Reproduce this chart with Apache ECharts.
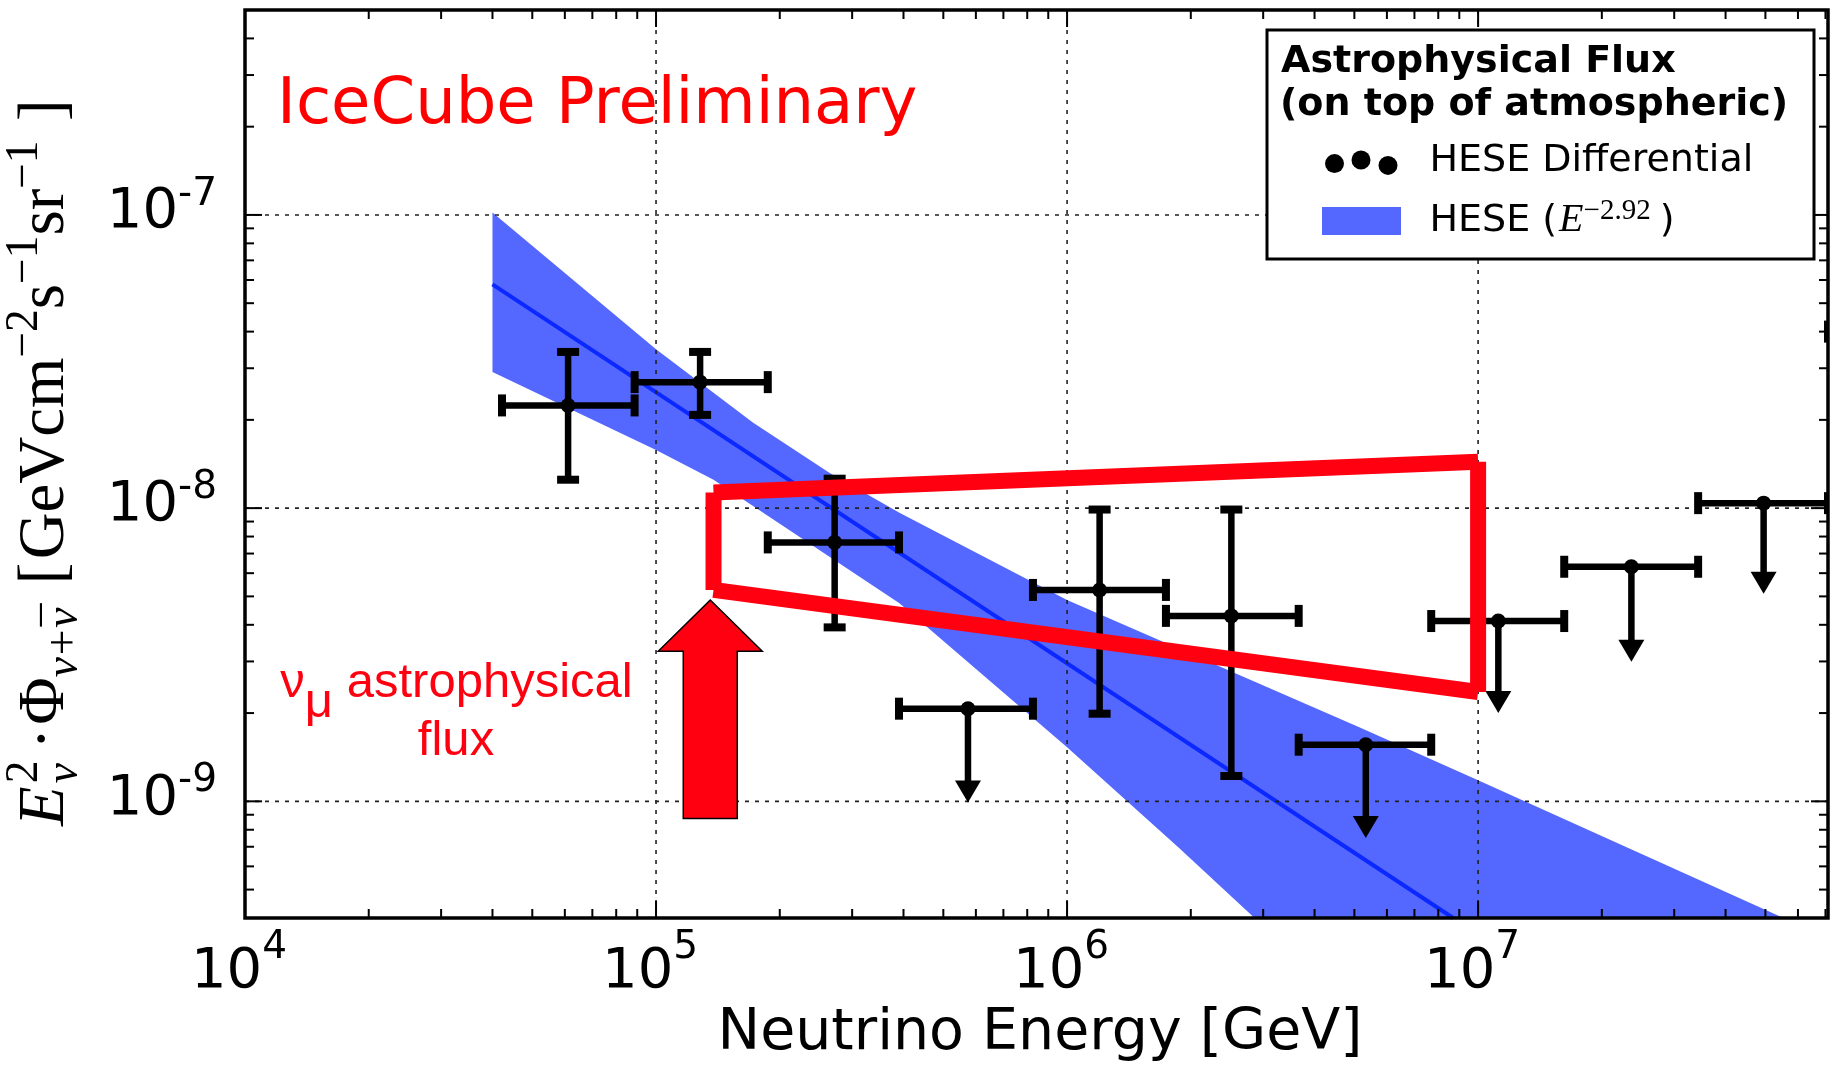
<!DOCTYPE html>
<html>
<head>
<meta charset="utf-8">
<title>Astrophysical neutrino flux</title>
<script src="https://cdn.jsdelivr.net/npm/echarts@6/dist/echarts.min.js"></script>
<style>
  html, body { margin: 0; padding: 0; background: #fff; }
  #chart { width: 1830px; height: 1068px; }
</style>
</head>
<body>
<div id="chart"></div>
<script>
// ---- axes ----
const xMin = 1e4, xMax = 7.1e7;
const yMin = 4e-10, yMax = 5e-7;
const xTickValues = [1e4, 1e5, 1e6, 1e7];
const xTickExponents = ['4', '5', '6', '7'];
const yTickValues = [1e-9, 1e-8, 1e-7];
const yTickExponents = ['-9', '-8', '-7'];

// ---- HESE differential unfolding (GeV, GeV cm^-2 s^-1 sr^-1) ----
const binEnergy   = [6.11e4, 1.28e5, 2.72e5, 5.74e5, 1.20e6, 2.51e6, 5.33e6, 1.12e7, 2.36e7, 4.95e7, 1.04e8];
const binLow      = [4.22e4, 8.87e4, 1.87e5, 3.90e5, 8.26e5, 1.74e6, 3.66e6, 7.69e6, 1.62e7, 3.43e7, 7.10e7];
const binHigh     = [8.87e4, 1.87e5, 3.90e5, 8.26e5, 1.74e6, 3.66e6, 7.69e6, 1.62e7, 3.43e7, 7.10e7, 1.52e8];
const binFlux     = [2.24e-8, 2.69e-8, 7.64e-9, 2.07e-9, 5.26e-9, 4.29e-9, 1.56e-9, 4.12e-9, 6.31e-9, 1.04e-8, 4.0e-8];
const fluxErrLow  = [1.25e-8, 2.08e-8, 3.92e-9, null, 1.99e-9, 1.22e-9, null, null, null, null, null];
const fluxErrHigh = [3.41e-8, 3.41e-8, 1.26e-8, null, 9.89e-9, 9.89e-9, null, null, null, null, null];
const limitArrowTip = [null, null, null, 9.9e-10, null, null, 7.5e-10, 2.0e-9, 2.99e-9, 5.1e-9, null];

// ---- HESE E^-2.92 power-law fit: 1 sigma band and best fit ----
const bandUpperEnergy = [4.0e4, 1.0e5, 1.72e5, 2.64e5, 3.91e5, 1.0e6, 5.14e6, 1.0e7, 5.6e7, 7.1e7];
const bandUpperFlux   = [1.02e-7, 3.48e-8, 1.96e-8, 1.32e-8, 9.64e-9, 4.86e-9, 1.79e-9, 1.18e-9, 3.97e-10, 3.42e-10];
const bandLowerEnergy = [4.0e4, 1.0e5, 1.38e5, 3.91e5, 1.0e6, 1.87e6, 2.82e6, 3.6e6];
const bandLowerFlux   = [2.91e-8, 1.58e-8, 1.25e-8, 4.74e-9, 1.53e-9, 6.95e-10, 4.07e-10, 2.94e-10];
const bestFitEnergy = [4.0e4, 8.7e6];
const bestFitFlux   = [5.8e-8, 4.0e-10];

// ---- nu_mu astrophysical flux (butterfly) and its pointer ----
const numuEnergy = [1.38e5, 1.0e7];
const numuUpper  = [1.13e-8, 1.44e-8];
const numuLower  = [5.26e-9, 2.36e-9];
const arrowEnergy = [1.355e5];
const arrowFlux   = [4.86e-9, 3.25e-9, 8.73e-10]; // tip, neck, tail

// ---- fonts / colours ----
const SANS = "'DejaVu Sans', sans-serif";
const SERIF = "'Liberation Serif', serif";
const ARIAL = "'Liberation Sans', Arial, sans-serif";
const RED = '#ff0010';
const BAND = '#5468ff';
const FIT = '#0a28ff';

// ---- text layout helpers ----
const ctx2d = document.createElement('canvas').getContext('2d');
function cssFont(p) {
  return (p.italic ? 'italic ' : '') + (p.bold ? 'bold ' : '') + p.size + 'px ' + p.family;
}
function measure(p) { ctx2d.font = cssFont(p); return ctx2d.measureText(p.text).width; }
// pieces flow along one baseline; a piece with `stack` starts where the previous one did
function layoutRun(pieces) {
  let cursor = 0, prevStart = 0;
  const placed = pieces.map(p => {
    const w = measure(p);
    const start = p.stack ? prevStart + (p.dx || 0) : cursor + (p.gap || 0);
    if (!p.stack) prevStart = start;
    cursor = Math.max(cursor, start + w);
    return { p, start };
  });
  return { placed, width: cursor };
}
function runElements(pieces, x, baseline, align, fill, z2) {
  const run = layoutRun(pieces);
  const x0 = align === 'center' ? x - run.width / 2 : align === 'right' ? x - run.width : x;
  return run.placed.map(({ p, start }) => ({
    type: 'text',
    x: x0 + start,
    y: baseline + (p.dy || 0) - 0.345 * p.size,
    z2: z2 || 0,
    style: { text: p.text, font: cssFont(p), fill: p.fill || fill, align: 'left', verticalAlign: 'middle' }
  }));
}
function seg(x1, y1, x2, y2, style) {
  return { type: 'line', shape: { x1, y1, x2, y2 }, style };
}

// ---- y axis title, fitted to its length ----
function yTitlePieces(s) {
  const sub = 0.7 * s;
  return [
    { text: 'E', italic: true, size: s, family: SERIF },
    { text: '2', size: sub, family: SERIF, dy: -0.42 * s, gap: 3 },
    { text: 'ν', italic: true, size: sub, family: SERIF, dy: 0.2 * s, stack: true },
    { text: '·', size: s, family: SERIF, gap: 0.17 * s },
    { text: 'Φ', size: s, family: SERIF, gap: 0.05 * s },
    { text: 'ν', italic: true, size: sub, family: SERIF, dy: 0.2 * s },
    { text: '+', size: sub, family: SERIF, dy: 0.2 * s, gap: 0.03 * s },
    { text: 'ν', italic: true, size: sub, family: SERIF, dy: 0.2 * s, gap: 0.03 * s },
    { text: '¯', size: sub, family: SERIF, dy: 0.16 * s, stack: true, dx: 0.02 * s },
    { text: '[', size: s, family: SERIF, gap: 0.3 * s },
    { text: 'GeVcm', size: s, family: SERIF, gap: 0.05 * s },
    { text: '−2', size: sub, family: SERIF, dy: -0.42 * s },
    { text: 's', size: s, family: SERIF },
    { text: '−1', size: sub, family: SERIF, dy: -0.42 * s },
    { text: 'sr', size: s, family: SERIF },
    { text: '−1', size: sub, family: SERIF, dy: -0.42 * s },
    { text: ']', size: s, family: SERIF, gap: 0.3 * s }
  ];
}
const yTitleLength = 727;
const yTitleSize = 60 * yTitleLength / layoutRun(yTitlePieces(60)).width;

// ---- series renderers ----
function renderBand(params, api) {
  const pts = [];
  bandUpperEnergy.forEach((e, i) => pts.push(api.coord([e, bandUpperFlux[i]])));
  for (let i = bandLowerEnergy.length - 1; i >= 0; i--) pts.push(api.coord([bandLowerEnergy[i], bandLowerFlux[i]]));
  return { type: 'polygon', shape: { points: pts }, style: { fill: BAND } };
}

function renderGrid(params, api) {
  const cs = params.coordSys;
  const st = { stroke: '#222', lineWidth: 1.6, lineDash: [4, 6] };
  const ch = [];
  xTickValues.forEach(v => {
    const px = api.coord([v, yMin])[0];
    ch.push(seg(px, cs.y, px, cs.y + cs.height, st));
  });
  yTickValues.forEach(v => {
    const py = api.coord([xMin, v])[1];
    ch.push(seg(cs.x, py, cs.x + cs.width, py, st));
  });
  return { type: 'group', children: ch };
}

function renderFrame(params, api) {
  const cs = params.coordSys;
  const x0 = cs.x, y0 = cs.y, x1 = cs.x + cs.width, y1 = cs.y + cs.height;
  const st = { stroke: '#000', lineWidth: 2 };
  const ch = [];
  const MAJOR = 17, MINOR = 9;
  for (let d = 4; d <= 7; d++) {
    for (let k = 1; k <= 9; k++) {
      const v = k * Math.pow(10, d);
      if (v < xMin || v > xMax) continue;
      const px = api.coord([v, yMin])[0];
      const len = k === 1 ? MAJOR : MINOR;
      ch.push(seg(px, y1, px, y1 - len, st));
      ch.push(seg(px, y0, px, y0 + len, st));
    }
  }
  for (let d = -10; d <= -7; d++) {
    for (let k = 1; k <= 9; k++) {
      const v = k * Math.pow(10, d);
      if (v < yMin * 0.999 || v > yMax * 1.001) continue;
      const py = api.coord([xMin, v])[1];
      const len = k === 1 ? MAJOR : MINOR;
      ch.push(seg(x0, py, x0 + len, py, st));
      ch.push(seg(x1, py, x1 - len, py, st));
    }
  }
  ch.push({ type: 'rect', shape: { x: x0, y: y0, width: cs.width, height: cs.height },
            style: { fill: 'none', stroke: '#000', lineWidth: 3.5 } });
  return { type: 'group', children: ch };
}

function renderBin(params, api) {
  const i = api.value(2);
  const c = api.coord([binEnergy[i], binFlux[i]]);
  const l = api.coord([binLow[i], binFlux[i]]);
  const r = api.coord([binHigh[i], binFlux[i]]);
  const bar = { stroke: '#000', lineWidth: 6.5 };
  const cap = { stroke: '#000', lineWidth: 8 };
  const CAP = 11;
  const ch = [];
  ch.push(seg(l[0], c[1], r[0], c[1], bar));
  ch.push(seg(l[0], c[1] - CAP, l[0], c[1] + CAP, cap));
  ch.push(seg(r[0], c[1] - CAP, r[0], c[1] + CAP, cap));
  if (fluxErrLow[i] != null) {
    const lo = api.coord([binEnergy[i], fluxErrLow[i]])[1];
    const hi = api.coord([binEnergy[i], fluxErrHigh[i]])[1];
    ch.push(seg(c[0], hi, c[0], lo, bar));
    ch.push(seg(c[0] - CAP, hi, c[0] + CAP, hi, cap));
    ch.push(seg(c[0] - CAP, lo, c[0] + CAP, lo, cap));
  }
  if (limitArrowTip[i] != null) {
    const tip = api.coord([binEnergy[i], limitArrowTip[i]])[1];
    ch.push(seg(c[0], c[1], c[0], tip - 12, bar));
    ch.push({ type: 'polygon', shape: { points: [[c[0] - 13, tip - 22], [c[0] + 13, tip - 22], [c[0], tip]] },
              style: { fill: '#000' } });
  }
  ch.push({ type: 'circle', shape: { cx: c[0], cy: c[1], r: 7.5 }, style: { fill: '#000' } });
  return { type: 'group', children: ch };
}

function renderNumuBox(params, api) {
  const tl = api.coord([numuEnergy[0], numuUpper[0]]);
  const tr = api.coord([numuEnergy[1], numuUpper[1]]);
  const bl = api.coord([numuEnergy[0], numuLower[0]]);
  const br = api.coord([numuEnergy[1], numuLower[1]]);
  const st = { stroke: RED, lineWidth: 16, lineCap: 'butt' };
  return { type: 'group', children: [
    seg(tl[0], tl[1], tr[0], tr[1], st),
    seg(tr[0], tr[1], br[0], br[1], st),
    seg(bl[0], bl[1], br[0], br[1], st),
    seg(tl[0], tl[1], bl[0], bl[1], st)
  ] };
}

function renderArrow(params, api) {
  const tip = api.coord([arrowEnergy[0], arrowFlux[0]]);
  const neck = api.coord([arrowEnergy[0], arrowFlux[1]])[1];
  const tail = api.coord([arrowEnergy[0], arrowFlux[2]])[1];
  const cx = tip[0], HEAD = 52, SHAFT = 27;
  return { type: 'polygon', shape: { points: [
      [cx, tip[1]], [cx + HEAD, neck], [cx + SHAFT, neck], [cx + SHAFT, tail],
      [cx - SHAFT, tail], [cx - SHAFT, neck], [cx - HEAD, neck]
    ] }, style: { fill: RED, stroke: '#000', lineWidth: 1.5 } };
}

function renderXLabel(params, api) {
  const i = api.value(2);
  const cs = params.coordSys;
  const px = api.coord([xTickValues[i], yMin])[0];
  const base = cs.y + cs.height + 74;
  return { type: 'group', children: runElements([
    { text: '10', size: 56, family: SANS },
    { text: xTickExponents[i], size: 39, family: SANS, dy: -31 }
  ], px - 6, base, 'center', '#000') };
}

function renderYLabel(params, api) {
  const i = api.value(2);
  const cs = params.coordSys;
  const py = api.coord([xMin, yTickValues[i]])[1];
  return { type: 'group', children: runElements([
    { text: '10', size: 56, family: SANS },
    { text: yTickExponents[i], size: 39, family: SANS, dy: -24 }
  ], cs.x - 28, py + 17, 'right', '#000') };
}

// ---- legend and annotations ----
const graphics = [];
graphics.push({ type: 'rect', shape: { x: 1267, y: 30, width: 547, height: 229 }, z: 100,
                style: { fill: '#fff', stroke: '#000', lineWidth: 3 } });
runElements([{ text: 'Astrophysical Flux', bold: true, size: 38, family: SANS }], 1281, 75, 'left', '#000', 1)
  .forEach(e => { e.z = 101; graphics.push(e); });
runElements([{ text: '(on top of atmospheric)', bold: true, size: 38, family: SANS }], 1280, 118, 'left', '#000', 1)
  .forEach(e => { e.z = 101; graphics.push(e); });
[[1334.5, 163.6], [1361, 160], [1388, 165.4]].forEach(([cx, cy]) =>
  graphics.push({ type: 'circle', shape: { cx, cy, r: 9.5 }, z: 101, style: { fill: '#000' } }));
runElements([{ text: 'HESE Differential', size: 38, family: SANS }], 1429.5, 174, 'left', '#000')
  .forEach(e => { e.z = 101; graphics.push(e); });
graphics.push({ type: 'rect', shape: { x: 1322, y: 207, width: 79, height: 28 }, z: 101, style: { fill: BAND } });
runElements([
  { text: 'HESE (', size: 38, family: SANS },
  { text: 'E', italic: true, size: 40, family: SERIF, gap: 2 },
  { text: '−2.92', size: 29, family: SERIF, dy: -13 },
  { text: ')', size: 38, family: SANS, gap: 9 }
], 1429.5, 234, 'left', '#000').forEach(e => { e.z = 101; graphics.push(e); });

runElements([{ text: 'IceCube Preliminary', size: 64, family: SANS }], 277, 128, 'left', '#ff0000')
  .forEach(e => { e.z = 50; graphics.push(e); });
runElements([
  { text: 'ν', size: 49, family: ARIAL },
  { text: 'μ', size: 49, family: ARIAL, dy: 20 },
  { text: ' astrophysical', size: 49, family: ARIAL }
], 456.5, 700, 'center', RED).forEach(e => { e.z = 50; graphics.push(e); });
runElements([{ text: 'flux', size: 49, family: ARIAL }], 456, 758, 'center', RED)
  .forEach(e => { e.z = 50; graphics.push(e); });

runElements([{ text: 'Neutrino Energy [GeV]', size: 57, family: SANS }], 1040, 1054, 'center', '#000')
  .forEach(e => { e.z = 50; graphics.push(e); });
graphics.push({ type: 'group', x: 68, y: 826, rotation: Math.PI / 2, z: 50,
                children: runElements(yTitlePieces(yTitleSize), 0, 0, 'left', '#000') });

// ---- chart ----
const chart = echarts.init(document.getElementById('chart'), null, { renderer: 'canvas' });
const axisOff = { show: true, axisLine: { show: false }, axisTick: { show: false },
                  axisLabel: { show: false }, splitLine: { show: false }, minorTick: { show: false } };
chart.setOption({
  animation: false,
  backgroundColor: '#fff',
  grid: { left: 245, top: 10, width: 1583, height: 908, outerBoundsMode: 'none' },
  xAxis: Object.assign({ type: 'log', logBase: 10, min: xMin, max: xMax }, axisOff),
  yAxis: Object.assign({ type: 'log', logBase: 10, min: yMin, max: yMax }, axisOff),
  graphic: { elements: graphics },
  series: [
    { type: 'custom', name: 'HESE band', z: 1, clip: true, silent: true,
      data: [[bandUpperEnergy[0], bandUpperFlux[0]]], renderItem: renderBand },
    { type: 'line', name: 'HESE best fit', z: 2, silent: true, symbol: 'none',
      data: bestFitEnergy.map((e, i) => [e, bestFitFlux[i]]),
      lineStyle: { color: FIT, width: 4 } },
    { type: 'custom', name: 'grid', z: 3, silent: true,
      data: [[xMin, yMin]], renderItem: renderGrid },
    { type: 'custom', name: 'HESE Differential', z: 4, clip: true, silent: true,
      data: binEnergy.map((e, i) => [e, binFlux[i], i]), renderItem: renderBin },
    { type: 'custom', name: 'numu flux', z: 5, clip: true, silent: true,
      data: [[numuEnergy[0], numuUpper[0]]], renderItem: renderNumuBox },
    { type: 'custom', name: 'numu pointer', z: 6, silent: true,
      data: [[arrowEnergy[0], arrowFlux[0]]], renderItem: renderArrow },
    { type: 'custom', name: 'frame', z: 10, silent: true,
      data: [[xMin, yMin]], renderItem: renderFrame },
    { type: 'custom', name: 'x labels', z: 10, silent: true,
      data: xTickValues.map((v, i) => [v, yMin, i]), renderItem: renderXLabel },
    { type: 'custom', name: 'y labels', z: 10, silent: true,
      data: yTickValues.map((v, i) => [xMin, v, i]), renderItem: renderYLabel }
  ]
});
</script>
</body>
</html>
